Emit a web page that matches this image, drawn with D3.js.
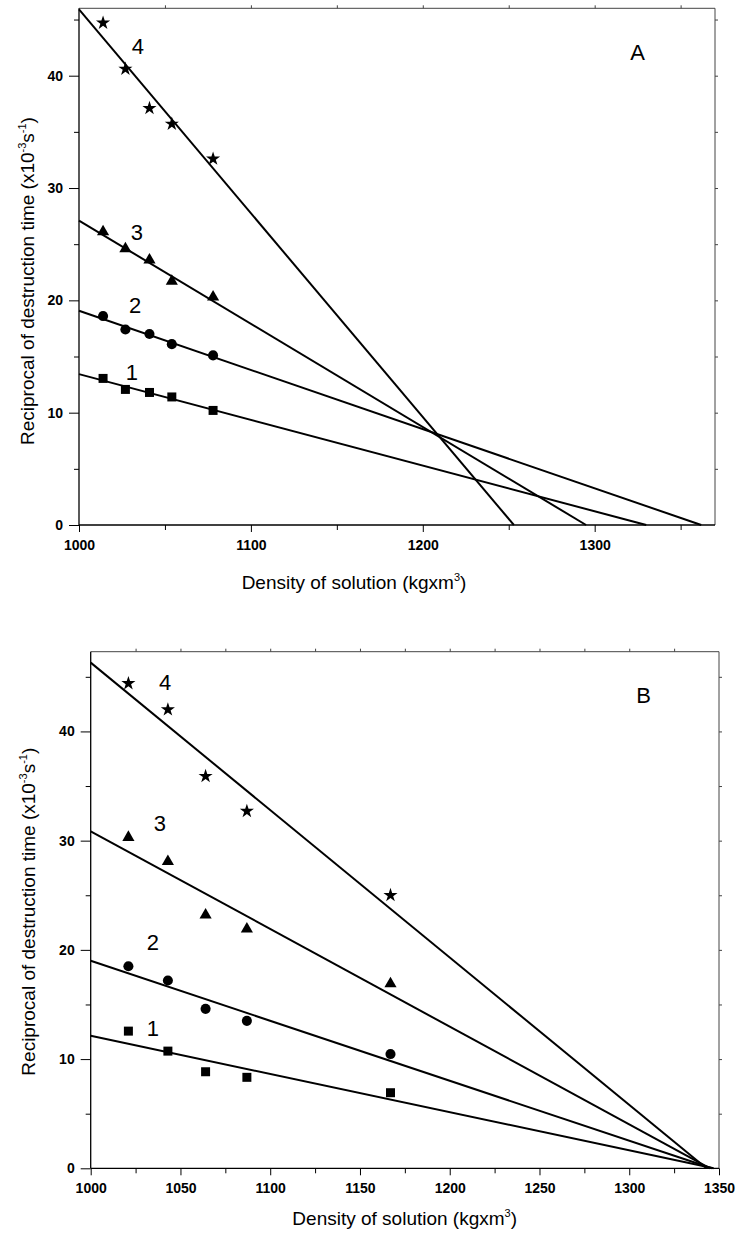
<!DOCTYPE html>
<html>
<head>
<meta charset="utf-8">
<script src="https://cdn.jsdelivr.net/npm/d3@7"></script>
<style>
  html, body { margin: 0; padding: 0; background: #fff; }
  svg { display: block; font-family: "Liberation Sans", Arial, Helvetica, sans-serif; }
</style>
</head>
<body>
<svg id="chart" width="736" height="1234"></svg>
<script>
// ---------- Panel A data ----------
const densityA = [1014, 1027, 1041, 1054, 1078];
const a1 = [13.05, 12.07, 11.8, 11.4, 10.2];
const a2 = [18.6, 17.4, 17.0, 16.1, 15.1];
const a3 = [26.1, 24.6, 23.6, 21.7, 20.3];
const a4 = [44.7, 40.6, 37.1, 35.7, 32.6];
// fitted lines: value at density 1000 and density where value reaches 0
const fitA_y1000 = [13.43, 19.07, 27.1, 45.9];
const fitA_zero = [1330, 1362, 1295, 1253];
const xTicksA = [1000, 1100, 1200, 1300];
const xMinorA = [1050, 1150, 1250, 1350];

// ---------- Panel B data ----------
const densityB = [1021, 1043, 1064, 1087, 1167];
const b1 = [12.56, 10.73, 8.84, 8.33, 6.92];
const b2 = [18.5, 17.2, 14.6, 13.5, 10.46];
const b3 = [30.3, 28.1, 23.2, 21.9, 16.9];
const b4 = [44.4, 42.0, 35.9, 32.7, 25.0];
const fitB_y1000 = [12.13, 19.0, 30.86, 46.3];
const fitB_zero = [1347, 1346, 1345, 1343];
const xTicksB = [1000, 1050, 1100, 1150, 1200, 1250, 1300, 1350];
const xMinorB = [1025, 1075, 1125, 1175, 1225, 1275, 1325];

const yTicks = [0, 10, 20, 30, 40];
const yMinor = [5, 15, 25, 35, 45];
const seriesLabels = ["1", "2", "3", "4"];
const symbols = [d3.symbolSquare, d3.symbolCircle, d3.symbolTriangle, d3.symbolStar];
const symbolSizes = [81, 80, 64, 62];

const svg = d3.select("#chart");

function drawPanel(cfg) {
  const g = svg.append("g");
  const x = d3.scaleLinear().domain(cfg.xDomain).range([cfg.left, cfg.right]);
  const y = d3.scaleLinear().domain(cfg.yDomain).range([cfg.bottom, cfg.top]);

  // frame top & right
  g.append("line").attr("x1", cfg.left).attr("x2", cfg.right).attr("y1", cfg.top).attr("y2", cfg.top)
    .attr("stroke", "#444").attr("stroke-width", 1);
  g.append("line").attr("x1", cfg.right).attr("x2", cfg.right).attr("y1", cfg.top).attr("y2", cfg.bottom)
    .attr("stroke", "#444").attr("stroke-width", 1);

  // top & right small ticks
  const topTicks = cfg.xTicks.concat(cfg.xMinor).filter(v => v > cfg.xDomain[0] && v < cfg.xDomain[1]);
  g.append("g").attr("transform", `translate(0,${cfg.top})`)
    .call(d3.axisTop(x).tickValues(topTicks).tickSize(3).tickFormat(""))
    .call(s => s.select(".domain").remove())
    .selectAll("line").attr("stroke", "#444");
  g.append("g").attr("transform", `translate(${cfg.right},0)`)
    .call(d3.axisRight(y).tickValues(yTicks.concat(yMinor).filter(v => v > 0)).tickSize(3).tickFormat(""))
    .call(s => s.select(".domain").remove())
    .selectAll("line").attr("stroke", "#444");

  // bottom axis
  const xa = g.append("g").attr("transform", `translate(0,${cfg.bottom})`)
    .call(d3.axisBottom(x).tickValues(cfg.xTicks).tickSize(7).tickPadding(8).tickFormat(d3.format("d")));
  xa.select(".domain").attr("d", `M${cfg.left},0H${cfg.right}`).attr("stroke-width", 1.3);
  xa.selectAll("text").attr("font-size", 14).attr("font-weight", "bold").attr("fill", "#000")
    .attr("font-family", "'Liberation Sans', Arial, sans-serif");
  g.append("g").attr("transform", `translate(0,${cfg.bottom})`)
    .call(d3.axisBottom(x).tickValues(cfg.xMinor).tickSize(5).tickFormat(""))
    .call(s => s.select(".domain").remove());

  // left axis
  const ya = g.append("g").attr("transform", `translate(${cfg.left},0)`)
    .call(d3.axisLeft(y).tickValues(yTicks).tickSize(10).tickPadding(6).tickFormat(d3.format("d")));
  ya.select(".domain").attr("d", `M0,${cfg.top}V${cfg.bottom}`).attr("stroke-width", 1.3);
  ya.selectAll("text").attr("font-size", 14).attr("font-weight", "bold").attr("fill", "#000")
    .attr("font-family", "'Liberation Sans', Arial, sans-serif");
  g.append("g").attr("transform", `translate(${cfg.left},0)`)
    .call(d3.axisLeft(y).tickValues(yMinor).tickSize(5).tickFormat(""))
    .call(s => s.select(".domain").remove());

  // fit lines
  const line = d3.line().x(d => x(d[0])).y(d => y(d[1]));
  cfg.fitY.forEach((y0, i) => {
    g.append("path")
      .attr("d", line([[cfg.xDomain[0], y0], [cfg.fitZero[i], 0]]))
      .attr("fill", "none").attr("stroke", "#000").attr("stroke-width", 2);
  });

  // points
  cfg.series.forEach((vals, i) => {
    g.append("g").selectAll("path").data(vals).join("path")
      .attr("transform", (v, j) => `translate(${x(cfg.density[j])},${y(v)})`)
      .attr("d", d3.symbol().type(symbols[i]).size(symbolSizes[i]))
      .attr("fill", "#000");
  });

  // series number labels
  cfg.labelPos.forEach((p, i) => {
    g.append("text").attr("x", x(p[0])).attr("y", y(p[1]) + 8)
      .attr("text-anchor", "middle").attr("font-size", 22).text(seriesLabels[i]);
  });
  g.append("text").attr("x", x(cfg.panelPos[0])).attr("y", y(cfg.panelPos[1]) + 8)
    .attr("text-anchor", "middle").attr("font-size", 22).text(cfg.panel);

  // axis titles
  const xt = g.append("text").attr("x", cfg.xTitle[0]).attr("y", cfg.xTitle[1])
    .attr("text-anchor", "middle").attr("font-size", 19);
  xt.append("tspan").text("Density of solution (kgxm");
  xt.append("tspan").attr("font-size", 11).attr("dy", -8).text("3");
  xt.append("tspan").attr("dy", 8).text(")");

  const yt = g.append("text")
    .attr("transform", `translate(${cfg.yTitle[0]},${cfg.yTitle[1]}) rotate(-90)`)
    .attr("text-anchor", "middle").attr("font-size", 19);
  yt.append("tspan").text("Reciprocal of destruction time (x10");
  yt.append("tspan").attr("font-size", 11).attr("dy", -8).text("-3");
  yt.append("tspan").attr("dy", 8).text("s");
  yt.append("tspan").attr("font-size", 11).attr("dy", -8).text("-1");
  yt.append("tspan").attr("dy", 8).text(")");
}

drawPanel({
  left: 79, right: 715, top: 8.3, bottom: 525,
  xDomain: [1000, 1370], yDomain: [0, 46],
  xTicks: xTicksA, xMinor: xMinorA,
  density: densityA, series: [a1, a2, a3, a4],
  fitY: fitA_y1000, fitZero: fitA_zero,
  labelPos: [[1030.7, 13.6], [1032.6, 19.6], [1033.7, 26.1], [1034.3, 42.6]],
  panel: "A", panelPos: [1325, 42.1],
  xTitle: [354, 589], yTitle: [33.5, 281]
});

drawPanel({
  left: 90.7, right: 719, top: 651.7, bottom: 1168.3,
  xDomain: [1000, 1350], yDomain: [0, 47.3],
  xTicks: xTicksB, xMinor: xMinorB,
  density: densityB, series: [b1, b2, b3, b4],
  fitY: fitB_y1000, fitZero: fitB_zero,
  labelPos: [[1034.7, 12.84], [1034.7, 20.75], [1038.6, 31.6], [1041.4, 44.5]],
  panel: "B", panelPos: [1308, 43.3],
  xTitle: [404.7, 1225], yTitle: [35, 911.7]
});
</script>
</body>
</html>
